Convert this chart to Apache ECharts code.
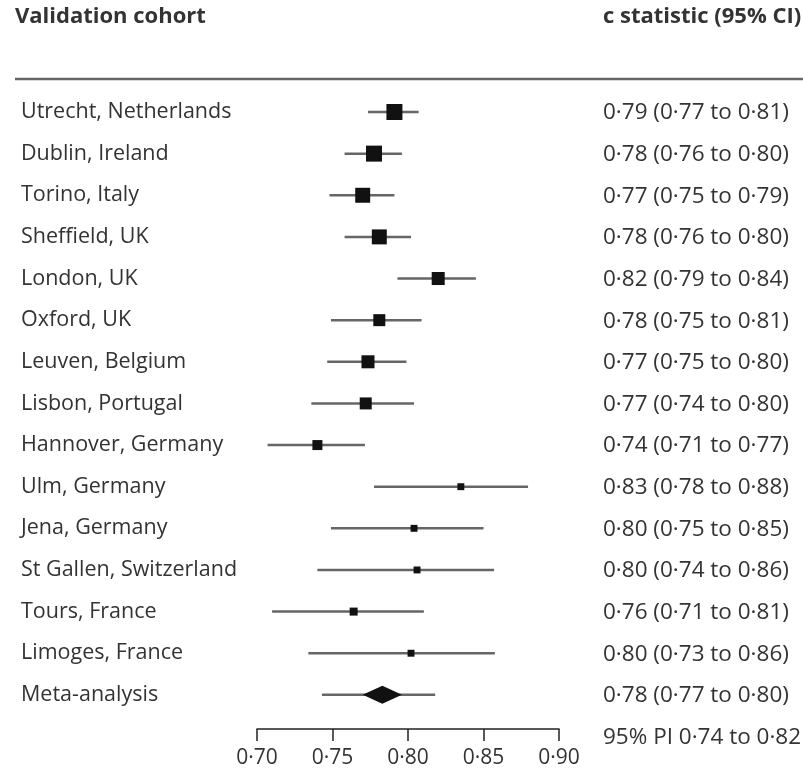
<!DOCTYPE html>
<html>
<head>
<meta charset="utf-8">
<script src="https://cdn.jsdelivr.net/npm/echarts@6/dist/echarts.min.js"></script>
<style>
  html, body { margin: 0; padding: 0; background: #fff; }
  #main { width: 803px; height: 772px; }
</style>
</head>
<body>
<div id="main"></div>
<script>
// cohort data
var cohorts = ['Utrecht, Netherlands', 'Dublin, Ireland', 'Torino, Italy', 'Sheffield, UK', 'London, UK',
  'Oxford, UK', 'Leuven, Belgium', 'Lisbon, Portugal', 'Hannover, Germany', 'Ulm, Germany',
  'Jena, Germany', 'St Gallen, Switzerland', 'Tours, France', 'Limoges, France'];
var estimate = [0.791, 0.7775, 0.770, 0.781, 0.820, 0.781, 0.7735, 0.772, 0.740, 0.835, 0.804, 0.806, 0.764, 0.802];
var lower = [0.7735, 0.758, 0.748, 0.758, 0.793, 0.749, 0.7465, 0.736, 0.707, 0.7775, 0.749, 0.740, 0.710, 0.734];
var upper = [0.807, 0.796, 0.791, 0.802, 0.845, 0.809, 0.799, 0.804, 0.7715, 0.8795, 0.850, 0.857, 0.8105, 0.8575];
// relative study weight -> box area
var weight = [16, 16, 14, 14, 10.6, 9, 10.6, 9, 6.25, 3, 3, 3, 4, 3];
var ciText = ['0·79 (0·77 to 0·81)', '0·78 (0·76 to 0·80)', '0·77 (0·75 to 0·79)', '0·78 (0·76 to 0·80)',
  '0·82 (0·79 to 0·84)', '0·78 (0·75 to 0·81)', '0·77 (0·75 to 0·80)', '0·77 (0·74 to 0·80)',
  '0·74 (0·71 to 0·77)', '0·83 (0·78 to 0·88)', '0·80 (0·75 to 0·85)', '0·80 (0·74 to 0·86)',
  '0·76 (0·71 to 0·81)', '0·80 (0·73 to 0·86)'];

// meta-analysis
var metaLabel = 'Meta-analysis';
var metaEstimate = 0.783;
var metaLower = 0.770;
var metaUpper = 0.796;
var piLower = 0.743;
var piUpper = 0.818;
var metaText = '0·78 (0·77 to 0·80)';
var piText = '95% PI 0·74 to 0·82';

var xTicks = [0.70, 0.75, 0.80, 0.85, 0.90];

var rowLabels = cohorts.concat([metaLabel]);
var FONT = 'Open Sans';
var TXT = '#333';

var studyData = cohorts.map(function (c, i) {
  return [estimate[i], i, lower[i], upper[i], weight[i]];
});
var n = cohorts.length;

function fmt(v) {
  return v.toFixed(2).replace('.', '·');
}

function rightText(api, y, str) {
  var x = api.coord([xTicks[xTicks.length - 1], y])[0] + 44;
  var py = api.coord([xTicks[0], y])[1] + 1;
  return {
    type: 'text',
    style: { x: x, y: py, text: str, fill: TXT, font: '22.5px "' + FONT + '"', verticalAlign: 'middle', align: 'left' }
  };
}

function renderStudy(params, api) {
  var y = api.value(1);
  var p = api.coord([api.value(0), y]);
  var l = api.coord([api.value(2), y]);
  var h = api.coord([api.value(3), y]);
  var s = 4 * Math.sqrt(api.value(4));
  return {
    type: 'group',
    children: [
      { type: 'line', shape: { x1: l[0], y1: p[1], x2: h[0], y2: p[1] }, style: { stroke: '#666', lineWidth: 2.5 } },
      { type: 'rect', shape: { x: p[0] - s / 2, y: p[1] - s / 2, width: s, height: s }, style: { fill: '#111' } },
      rightText(api, y, ciText[y])
    ]
  };
}

function renderMeta(params, api) {
  var y = api.value(1);
  var c = api.coord([api.value(0), y]);
  var l = api.coord([api.value(2), y]);
  var h = api.coord([api.value(3), y]);
  var pl = api.coord([api.value(4), y]);
  var ph = api.coord([api.value(5), y]);
  var hh = 9;
  return {
    type: 'group',
    children: [
      { type: 'line', shape: { x1: pl[0], y1: c[1], x2: ph[0], y2: c[1] }, style: { stroke: '#666', lineWidth: 2.5 } },
      { type: 'polygon', shape: { points: [[l[0], c[1]], [c[0], c[1] - hh], [h[0], c[1]], [c[0], c[1] + hh]] }, style: { fill: '#111' } },
      rightText(api, y, metaText),
      rightText(api, y + 1, piText)
    ]
  };
}

var myChart = echarts.init(document.getElementById('main'));
var option = {
  animation: false,
  backgroundColor: '#fff',
  grid: { left: 257, right: 244, top: 70.36, bottom: 43 },
  graphic: [
    { type: 'text', left: 15, top: 6, style: { text: 'Validation cohort', font: 'bold 22px "' + FONT + '"', fill: TXT } },
    { type: 'text', left: 603, top: 6, style: { text: 'c statistic (95% CI)', font: 'bold 22px "' + FONT + '"', fill: TXT } },
    { type: 'line', shape: { x1: 15, y1: 79, x2: 803, y2: 79 }, style: { stroke: '#666', lineWidth: 2.5 } }
  ],
  xAxis: {
    type: 'value',
    min: 0.70,
    max: 0.90,
    interval: 0.05,
    splitLine: { show: false },
    axisLine: { onZero: false, lineStyle: { color: '#222', width: 1.5 } },
    axisTick: { show: true, length: 12, lineStyle: { color: '#222', width: 1.5 } },
    axisLabel: { formatter: fmt, fontFamily: FONT, fontSize: 21, color: TXT, margin: 19 }
  },
  yAxis: {
    type: 'value',
    inverse: true,
    min: -1,
    max: 14.82,
    interval: 1,
    splitLine: { show: false },
    axisLine: { show: false },
    axisTick: { show: false },
    axisLabel: {
      align: 'left',
      margin: 236,
      fontFamily: FONT,
      fontSize: 21.5,
      color: TXT,
      formatter: function (v) {
        return (v >= 0 && v % 1 === 0 && v < rowLabels.length) ? rowLabels[v] : '';
      }
    }
  },
  series: [
    {
      type: 'custom',
      renderItem: renderStudy,
      encode: { x: 0, y: 1 },
      data: studyData
    },
    {
      type: 'custom',
      renderItem: renderMeta,
      encode: { x: 0, y: 1 },
      data: [[metaEstimate, n, metaLower, metaUpper, piLower, piUpper]]
    }
  ]
};
myChart.setOption(option);
window.onresize = function () {
  myChart.resize();
};
</script>
</body>
</html>
